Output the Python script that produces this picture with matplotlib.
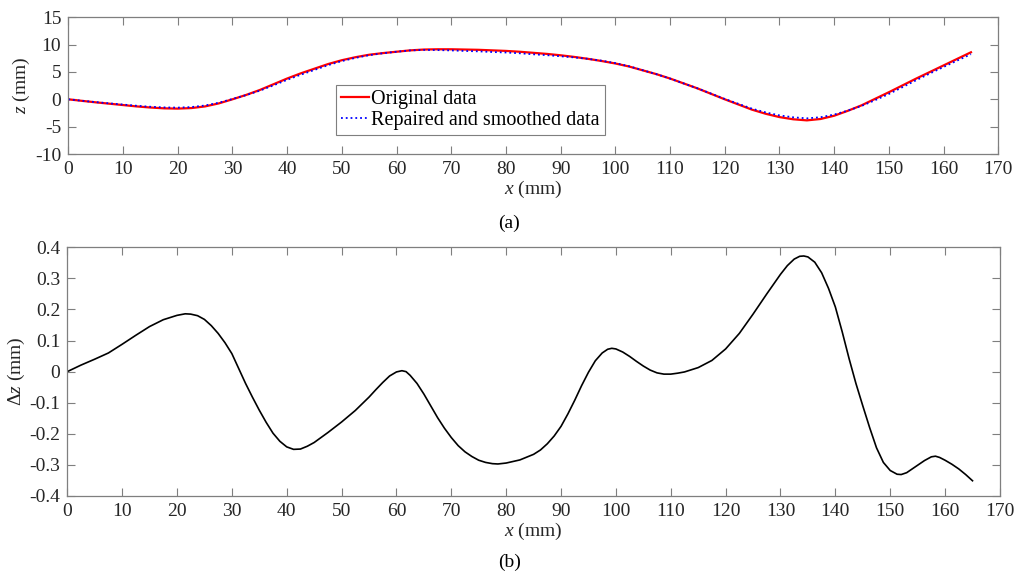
import matplotlib
matplotlib.use("Agg")
import matplotlib.pyplot as plt

plt.rcParams["font.family"] = ["Liberation Serif", "DejaVu Serif"]
plt.rcParams["mathtext.fontset"] = "custom"
plt.rcParams["mathtext.rm"] = "Liberation Serif"
plt.rcParams["mathtext.it"] = "Liberation Serif:italic"
plt.rcParams["axes.unicode_minus"] = False

# (a) profile: original vs repaired/smoothed
x_prof = [0, 2.5, 5, 7.5, 10, 12.5, 15, 17.5, 20, 22.5, 25, 27.5, 30, 32.5, 35, 37.5,
          40, 42.5, 45, 47.5, 50, 52.5, 55, 57.5, 60, 62.5, 65, 67.5, 70, 72.5, 75,
          77.5, 80, 82.5, 85, 87.5, 90, 92.5, 95, 97.5, 100, 102.5, 105, 107.5, 110,
          112.5, 115, 117.5, 120, 122.5, 125, 127.5, 130, 132.5, 135, 137.5, 140,
          142.5, 145, 147.5, 150, 152.5, 155, 157.5, 160, 162.5, 165]
z_orig = [0, -0.28, -0.55, -0.8, -1.05, -1.3, -1.5, -1.65, -1.7, -1.6, -1.3, -0.75,
          0.0, 0.8, 1.7, 2.75, 3.8, 4.75, 5.6, 6.45, 7.15, 7.7, 8.15, 8.45, 8.7, 8.95,
          9.1, 9.15, 9.15, 9.1, 9.05, 8.95, 8.85, 8.7, 8.5, 8.3, 8.05, 7.75, 7.4, 7.0,
          6.55, 6.0, 5.3, 4.6, 3.8, 2.9, 2.0, 1.0, 0.0, -0.95, -1.9, -2.65, -3.25,
          -3.65, -3.85, -3.6, -3.0, -2.1, -1.1, 0.1, 1.3, 2.55, 3.8, 5.0, 6.2, 7.4, 8.6]
z_smooth = [0, -0.26, -0.51, -0.74, -0.96, -1.18, -1.36, -1.48, -1.52, -1.42, -1.13,
            -0.63, 0.06, 0.76, 1.58, 2.55, 3.56, 4.50, 5.37, 6.25, 6.99, 7.58, 8.07,
            8.42, 8.70, 8.94, 9.03, 9.00, 8.94, 8.84, 8.77, 8.65, 8.56, 8.42, 8.23,
            8.07, 7.87, 7.66, 7.40, 7.06, 6.62, 6.05, 5.32, 4.60, 3.79, 2.90, 2.01,
            1.04, 0.07, -0.83, -1.72, -2.40, -2.94, -3.29, -3.48, -3.28, -2.79, -2.06,
            -1.21, -0.15, 0.98, 2.23, 3.50, 4.73, 5.92, 7.09, 8.25]

# (b) difference
x_dz = [0, 2.5, 5, 7.5, 10, 12.5, 15, 17.5, 20, 21.5, 22.5, 23.75, 25, 26.25, 27.5,
        28.75, 30, 31.25, 32.5, 33.75, 35, 36.25, 37.5, 38.75, 40, 41.25, 42.5, 43.75,
        45, 47.5, 50, 52.5, 55, 56.25, 57.5, 58.75, 60, 61, 61.75, 62.5, 63.75, 65,
        66.25, 67.5, 68.75, 70, 71.25, 72.5, 73.75, 75, 76.25, 77.5, 78.5, 80, 82.5,
        85, 86.25, 87.5, 88.75, 90, 91.25, 92.5, 93.75, 95, 96.25, 97.5, 98.5, 99.25,
        100, 101.25, 102.5, 103.75, 105, 106.25, 107.5, 108.75, 110, 111.25, 112.5,
        115, 117.5, 120, 122.5, 125, 127.5, 130, 131.25, 132.5, 133.5, 134.25, 135,
        136.25, 137.5, 138.75, 140, 141.25, 142.5, 143.75, 145, 146.25, 147.5,
        148.75, 150, 151.25, 152, 153, 154, 155, 156.25, 157.5, 158.25, 159, 160,
        161.25, 162.5, 163.75, 165]
dz = [0, 0.021, 0.040, 0.060, 0.088, 0.117, 0.145, 0.167, 0.181, 0.186, 0.185, 0.180,
      0.168, 0.148, 0.123, 0.093, 0.058, 0.010, -0.038, -0.082, -0.124, -0.163, -0.198,
      -0.224, -0.242, -0.250, -0.249, -0.240, -0.228, -0.196, -0.162, -0.125, -0.082,
      -0.058, -0.035, -0.014, -0.001, 0.003, 0.0, -0.012, -0.038, -0.072, -0.110,
      -0.148, -0.182, -0.212, -0.238, -0.258, -0.273, -0.285, -0.292, -0.296, -0.297,
      -0.294, -0.284, -0.266, -0.252, -0.232, -0.207, -0.176, -0.136, -0.092, -0.045,
      -0.002, 0.035, 0.060, 0.072, 0.075, 0.073, 0.063, 0.049, 0.033, 0.018, 0.005,
      -0.004, -0.008, -0.008, -0.005, -0.001, 0.013, 0.036, 0.073, 0.123, 0.185,
      0.250, 0.313, 0.341, 0.362, 0.371, 0.372, 0.369, 0.352, 0.318, 0.268, 0.208,
      0.128, 0.042, -0.038, -0.110, -0.180, -0.245, -0.292, -0.318, -0.330, -0.331,
      -0.325, -0.313, -0.301, -0.286, -0.274, -0.272, -0.276, -0.285, -0.298, -0.313,
      -0.331, -0.351]

spine_col = "#7f7f7f"
txt_col = "#262626"
fs = 14

fig = plt.figure(figsize=(10.19, 5.74), dpi=100)
ax1 = fig.add_axes([0.067, 0.7317, 0.9127, 0.2382])
ax2 = fig.add_axes([0.066, 0.1359, 0.9153, 0.4333])

ax1.plot(x_prof, z_orig, color="#ff0000", lw=1.6, label="Original data")
ax1.plot(x_prof, z_smooth, color="#0000ff", lw=1.3, ls=":", label="Repaired and smoothed data")
ax1.set_xlim(0, 170)
ax1.set_ylim(-10, 15)
ax1.set_yticks(range(-10, 16, 5))
ax1.set_ylabel("$z$ (mm)", fontsize=fs, color=txt_col, labelpad=2)

ax2.plot(x_dz, dz, color="black", lw=1.2)
ax2.set_xlim(0, 170)
ax2.set_ylim(-0.4, 0.4)
ax2.set_yticks([-0.4, -0.3, -0.2, -0.1, 0, 0.1, 0.2, 0.3, 0.4])
ax2.set_yticklabels(["-0.4", "-0.3", "-0.2", "-0.1", "0", "0.1", "0.2", "0.3", "0.4"])
ax2.set_ylabel(r"$\Delta z$ (mm)", fontsize=fs, color=txt_col, labelpad=2)

for ax in (ax1, ax2):
    ax.set_xticks(range(0, 171, 10))
    ax.set_xlabel("$x$ (mm)", fontsize=fs, color=txt_col, labelpad=1)
    ax.tick_params(direction="in", top=True, right=True, length=5.5, width=0.8,
                   color=spine_col, labelsize=fs, labelcolor=txt_col, pad=5)
    for s in ax.spines.values():
        s.set_color(spine_col)
        s.set_linewidth(0.9)

leg = ax1.legend(loc="upper left", bbox_to_anchor=(336 / 1019, 1 - 85 / 574),
                 bbox_transform=fig.transFigure, fontsize=14.5, frameon=True,
                 fancybox=False, edgecolor=spine_col, framealpha=1,
                 handlelength=1.4, handletextpad=0.1, borderpad=0.25,
                 labelspacing=0.1, borderaxespad=0)
leg.get_frame().set_linewidth(0.8)

fig.text(509 / 1019, 1 - 223 / 574, "(a)", ha="center", va="center", fontsize=fs, color="black")
fig.text(510 / 1019, 1 - 562 / 574, "(b)", ha="center", va="center", fontsize=fs, color="black")

fig.savefig("out.png", dpi=100)
